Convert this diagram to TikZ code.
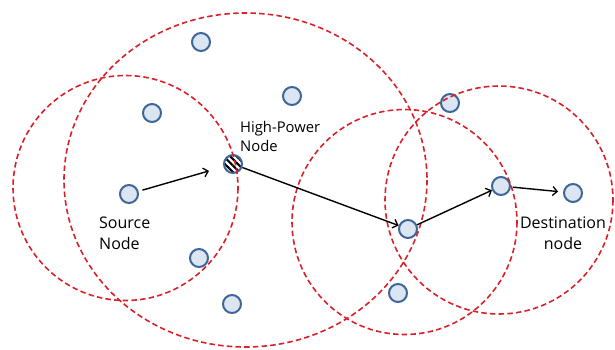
\documentclass[tikz,border=0pt]{standalone}
\usepackage{fontspec}
\setmainfont{Open Sans}
\usetikzlibrary{arrows.meta,patterns.meta}

\definecolor{nodefill}{RGB}{220,230,242}
\definecolor{nodeline}{RGB}{62,102,152}
\definecolor{rangered}{RGB}{218,32,40}

\tikzset{
  dev/.style={circle,draw=nodeline,fill=nodefill,line width=2pt,
    minimum size=18pt,inner sep=0pt},
  hpdev/.style={dev,preaction={fill=white},
    pattern={Lines[angle=-45,distance=4.6pt,line width=2pt]}},
  txrange/.style={draw=rangered,line width=1.6pt,dash pattern=on 5.5pt off 3.2pt},
  hop/.style={line width=1.4pt,-{Straight Barb[length=4.5pt,width=9pt,line width=1.3pt]}},
  lbl/.style={inner sep=0pt,font=\fontsize{16}{20.5}\selectfont}
}

\begin{document}
\begin{tikzpicture}[x=1pt,y=-1pt]
    \useasboundingbox (0,0) rectangle (615,349);
    % nodes
    \node[dev] (src) at (129,194) {};
    \node[hpdev] (hp) at (233,164) {};
    \node[dev] (relay1) at (408,229) {};
    \node[dev] (relay2) at (501,186) {};
    \node[dev] (dst) at (573,193) {};
    \node[dev] (n1) at (201,42) {};
    \node[dev] (n2) at (152,113) {};
    \node[dev] (n3) at (292,96) {};
    \node[dev] (n4) at (199,258) {};
    \node[dev] (n5) at (232,304) {};
    \node[dev] (n6) at (450,103) {};
    \node[dev] (n7) at (398,293) {};
    % transmission ranges
    \draw[txrange] (125.5,188) circle [radius=112.5];
    \draw[txrange] (245.5,180) ellipse [x radius=181.5, y radius=167];
    \draw[txrange] (404.5,222) circle [radius=112.5];
    \draw[txrange] (499,200) circle [radius=114];
    % route
    \draw[hop,shorten <=4pt,shorten >=15pt] (src) -- (hp);
    \draw[hop] (hp) -- (relay1);
    \draw[hop] (relay1) -- (relay2);
    \draw[hop,shorten <=2pt,shorten >=5pt] (relay2) -- (dst);
    % labels (base = last line)
    \node[lbl,anchor=base west,align=left] (srclbl) at (99,249) {Source\\Node};
    \node[lbl,anchor=base west,align=left,font=\fontsize{14.8}{19}\selectfont] (hplbl) at (240,151.5) {High-Power\\Node};
    \node[lbl,anchor=base,align=center] (dstlbl) at (563,249) {Destination\\node};
\end{tikzpicture}
\end{document}
